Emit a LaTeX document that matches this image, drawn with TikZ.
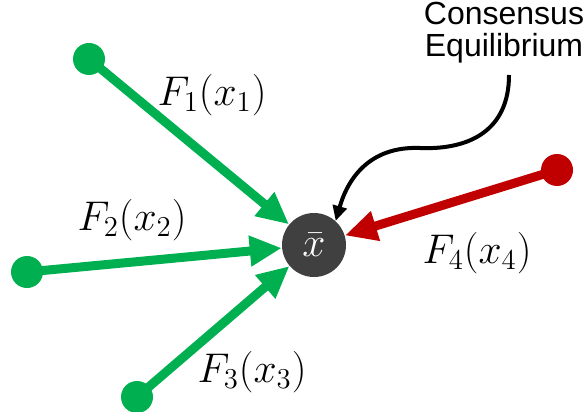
\documentclass[tikz,border=0pt]{standalone}
\usepackage{amsmath}
\usepackage{fontspec}
\newfontfamily\labelfont{Liberation Sans}
\usetikzlibrary{arrows.meta}
\definecolor{agentgreen}{RGB}{0,176,80}
\definecolor{agentred}{RGB}{192,0,0}
\definecolor{centergray}{RGB}{64,64,64}

\begin{document}
\begin{tikzpicture}[x=0.5pt, y=-0.5pt,
  every node/.style={font=\fontsize{20}{24}\selectfont},
  agentdot/.style={circle, fill=#1, minimum size=16pt, inner sep=0pt},
  pull/.style={draw=#1, line width=4.5pt, -{Triangle[length=16pt,width=14.5pt]}}]
  \useasboundingbox (0,0) rectangle (587,411);
  % consensus point
  \node[circle, fill=centergray, minimum size=32pt, inner sep=0pt, text=white] (xbar) at (314,245) {$\bar{x}$};
  % agents
  \node[agentdot=agentgreen] (p1) at (89,59) {};
  \node[agentdot=agentgreen] (p2) at (27,272) {};
  \node[agentdot=agentgreen] (p3) at (137,397) {};
  \node[agentdot=agentred] (p4) at (557,170) {};
  \draw[pull=agentgreen] (p1.center) -- (xbar);
  \draw[pull=agentgreen] (p2.center) -- (xbar);
  \draw[pull=agentgreen] (p3.center) -- (xbar);
  \draw[pull=agentred] (p4.center) -- (xbar);
  % operator labels
  \node (f1) at (212,95) {$F_1(x_1)$};
  \node (f2) at (132,220) {$F_2(x_2)$};
  \node (f3) at (252,372) {$F_3(x_3)$};
  \node (f4) at (477,253) {$F_4(x_4)$};
  % callout
  \node[align=center, inner sep=0pt, font=\labelfont\fontsize{16}{16}\selectfont] (ce) at (504,33) {Consensus\\Equilibrium};
  \coordinate (cstart) at (509,75);
  \draw[line width=2pt, -{Triangle[length=7.5pt,width=7pt]}]
    (cstart) .. controls (509,130) and (470,150) .. (420,148)
    .. controls (370,146) and (348,178) .. (xbar.48);
\end{tikzpicture}
\end{document}
